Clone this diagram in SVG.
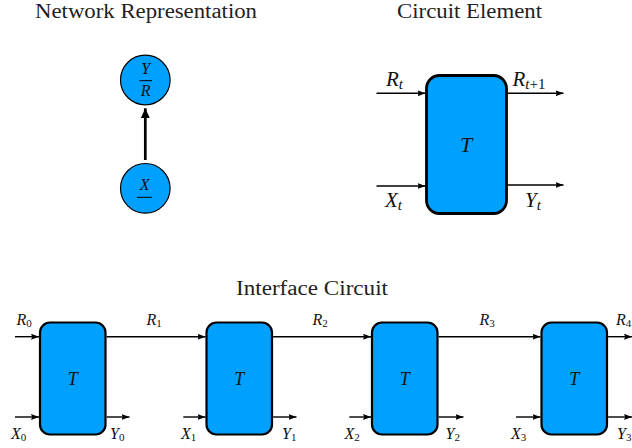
<svg xmlns="http://www.w3.org/2000/svg" width="632" height="448" viewBox="0 0 632 448">
<style>
.title{font-family:'Liberation Serif','DejaVu Serif',serif;font-size:20px;fill:#222;text-anchor:middle}
.m{font-family:'Liberation Serif','DejaVu Serif',serif;font-style:italic;fill:#111}
.up{font-style:normal}
.box{fill:#00a0ff;stroke:#000}
.circ{fill:#00a0ff;stroke:#000;stroke-width:1.2}
.ln{stroke:#000;stroke-width:1.4;fill:none;marker-end:url(#ah)}
.bar{stroke:#000;stroke-width:1}
</style>
<defs>
<marker id="ah" markerUnits="userSpaceOnUse" viewBox="0 0 8 6" refX="8" refY="3" markerWidth="8" markerHeight="6" orient="auto">
<path d="M0,0 L8,3 L0,6 L1.2,3 z" fill="#000"/>
</marker>
<marker id="ahb" markerUnits="userSpaceOnUse" viewBox="0 0 10 10" refX="10" refY="5" markerWidth="10" markerHeight="10" orient="auto">
<path d="M0,0.4 L10,5 L0,9.6 z" fill="#000"/>
</marker>
</defs>

<text class="title" x="146" y="18" textLength="222" lengthAdjust="spacingAndGlyphs">Network Representation</text>
<text class="title" x="469.5" y="18" textLength="145" lengthAdjust="spacingAndGlyphs">Circuit Element</text>
<text class="title" x="312" y="295" textLength="152" lengthAdjust="spacingAndGlyphs">Interface Circuit</text>

<g id="net-top">
<circle class="circ" cx="145.3" cy="80" r="24.8"/>
<text class="m" x="145.6" y="74" font-size="16" text-anchor="middle">Y</text>
<line class="bar" x1="139.3" y1="80.7" x2="152" y2="80.7"/>
<text class="m" x="145.6" y="96" font-size="16" text-anchor="middle">R</text>
</g>
<g id="net-bottom">
<circle class="circ" cx="145.3" cy="188.3" r="24.8"/>
<text class="m" x="144.6" y="190" font-size="16" text-anchor="middle">X</text>
<line class="bar" x1="137" y1="197.3" x2="152" y2="197.3"/>
</g>

<g id="element">
<rect class="box" x="426.5" y="75.5" width="80" height="138" rx="13" stroke-width="2.8"/>
<text class="m" x="466" y="152" font-size="22" text-anchor="middle">T</text>
</g>

<g id="chain-0">
<rect class="box" x="40" y="322.5" width="65.5" height="112" rx="10" stroke-width="2.2"/>
<text class="m" x="72.8" y="384.5" font-size="18" text-anchor="middle">T</text>
</g>
<g id="chain-1">
<rect class="box" x="206.5" y="322.5" width="65.5" height="112" rx="10" stroke-width="2.2"/>
<text class="m" x="239.3" y="384.5" font-size="18" text-anchor="middle">T</text>
</g>
<g id="chain-2">
<rect class="box" x="372" y="322.5" width="65.5" height="112" rx="10" stroke-width="2.2"/>
<text class="m" x="404.8" y="384.5" font-size="18" text-anchor="middle">T</text>
</g>
<g id="chain-3">
<rect class="box" x="541.5" y="322.5" width="65.5" height="112" rx="10" stroke-width="2.2"/>
<text class="m" x="574.3" y="384.5" font-size="18" text-anchor="middle">T</text>
</g>

<g id="connectors">
<line x1="145.3" y1="160" x2="145.3" y2="108.3" stroke="#000" stroke-width="2.7" marker-end="url(#ahb)"/>

<line class="ln" x1="376.5" y1="93.3" x2="425.5" y2="93.3"/>
<line class="ln" x1="376.5" y1="186" x2="425.5" y2="186"/>
<line class="ln" x1="507.5" y1="93.3" x2="563.5" y2="93.3"/>
<line class="ln" x1="507.5" y1="185" x2="563.5" y2="185"/>

<line class="ln" x1="15" y1="336.7" x2="39" y2="336.7"/>
<line class="ln" x1="106.6" y1="336.7" x2="205.5" y2="336.7"/>
<line class="ln" x1="273.1" y1="336.7" x2="371" y2="336.7"/>
<line class="ln" x1="438.6" y1="336.7" x2="540.5" y2="336.7"/>
<line class="ln" x1="608.1" y1="336.7" x2="632" y2="336.7"/>

<line class="ln" x1="15" y1="417" x2="39" y2="417"/>
<line class="ln" x1="183.3" y1="417" x2="205.5" y2="417"/>
<line class="ln" x1="349.3" y1="417" x2="371" y2="417"/>
<line class="ln" x1="516" y1="417" x2="540.5" y2="417"/>

<line class="ln" x1="106.6" y1="417" x2="129.5" y2="417"/>
<line class="ln" x1="273.1" y1="417" x2="296.5" y2="417"/>
<line class="ln" x1="438.6" y1="417" x2="463.5" y2="417"/>
<line class="ln" x1="608.1" y1="417" x2="632" y2="417"/>
</g>

<g id="labels">
<text class="m" x="386" y="86" font-size="21">R<tspan font-size="15" dy="3">t</tspan></text>
<text class="m" x="512.5" y="86" font-size="21">R<tspan font-size="15" dy="3">t</tspan><tspan class="up" font-size="15">+1</tspan></text>
<text class="m" x="385" y="207" font-size="21">X<tspan font-size="15" dy="3">t</tspan></text>
<text class="m" x="525" y="207" font-size="21">Y<tspan font-size="15" dy="3">t</tspan></text>

<text class="m" x="16.5" y="324.5" font-size="16">R<tspan class="up" font-size="11" dy="2.5">0</tspan></text>
<text class="m" x="146.5" y="324.5" font-size="16">R<tspan class="up" font-size="11" dy="2.5">1</tspan></text>
<text class="m" x="312.5" y="324.5" font-size="16">R<tspan class="up" font-size="11" dy="2.5">2</tspan></text>
<text class="m" x="479.5" y="324.5" font-size="16">R<tspan class="up" font-size="11" dy="2.5">3</tspan></text>
<text class="m" x="616" y="324.5" font-size="16">R<tspan class="up" font-size="11" dy="2.5">4</tspan></text>

<text class="m" x="11" y="438.5" font-size="16">X<tspan class="up" font-size="11" dy="2.5">0</tspan></text>
<text class="m" x="181" y="438.5" font-size="16">X<tspan class="up" font-size="11" dy="2.5">1</tspan></text>
<text class="m" x="344.5" y="438.5" font-size="16">X<tspan class="up" font-size="11" dy="2.5">2</tspan></text>
<text class="m" x="511" y="438.5" font-size="16">X<tspan class="up" font-size="11" dy="2.5">3</tspan></text>

<text class="m" x="110" y="438.5" font-size="16">Y<tspan class="up" font-size="11" dy="2.5">0</tspan></text>
<text class="m" x="282" y="438.5" font-size="16">Y<tspan class="up" font-size="11" dy="2.5">1</tspan></text>
<text class="m" x="445.5" y="438.5" font-size="16">Y<tspan class="up" font-size="11" dy="2.5">2</tspan></text>
<text class="m" x="617" y="438.5" font-size="16">Y<tspan class="up" font-size="11" dy="2.5">3</tspan></text>
</g>
</svg>
